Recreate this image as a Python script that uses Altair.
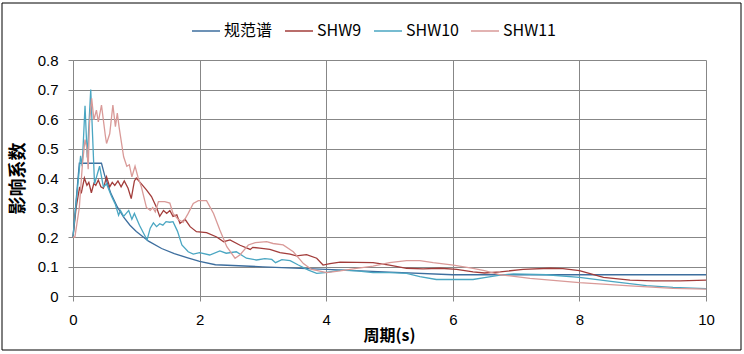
import altair as alt
import pandas as pd

series_names = ["规范谱", "SHW9", "SHW10", "SHW11"]
series_colors = ["#3D6E9E", "#A23C3A", "#4AA6C2", "#D99A98"]

x_ticks = [0, 2, 4, 6, 8, 10]
y_ticks = [0, 0.1, 0.2, 0.3, 0.4, 0.5, 0.6, 0.7, 0.8]

std_t = [0, 0.1, 0.45, 0.5, 0.6, 0.7, 0.8, 0.9, 1.0, 1.2, 1.4, 1.6, 1.8, 2.0, 2.25, 3, 4, 5, 6, 10]
std_v = [0.20, 0.45, 0.45, 0.409, 0.347, 0.302, 0.267, 0.240, 0.219, 0.185, 0.161, 0.144,
         0.130, 0.117, 0.106, 0.099, 0.090, 0.081, 0.072, 0.072]

shw9_t = [0, 0.05, 0.105, 0.13, 0.18, 0.22, 0.25, 0.29, 0.33, 0.36,
          0.4, 0.44, 0.48, 0.53, 0.58, 0.62, 0.66, 0.71, 0.76, 0.81,
          0.87, 0.92, 0.97, 1.0, 1.08, 1.16, 1.24, 1.32, 1.37, 1.43,
          1.48, 1.53, 1.58, 1.64, 1.69, 1.77, 1.85, 1.95, 2.11, 2.27,
          2.38, 2.48, 2.64, 2.8, 2.84, 2.95, 3.11, 3.27, 3.43, 3.53,
          3.69, 3.85, 3.95, 4.06, 4.22, 4.48, 4.74, 5.0, 5.27, 5.53,
          5.8, 6.06, 6.32, 6.5, 6.75, 7.11, 7.54, 7.74, 8.0, 8.38,
          8.8, 9.16, 9.59, 10]
shw9_v = [0.20, 0.30, 0.37, 0.348, 0.40, 0.375, 0.385, 0.35, 0.382, 0.375,
          0.393, 0.37, 0.365, 0.404, 0.37, 0.385, 0.375, 0.39, 0.37, 0.39,
          0.365, 0.33, 0.39, 0.40, 0.38, 0.36, 0.337, 0.30, 0.27, 0.29,
          0.28, 0.29, 0.27, 0.275, 0.246, 0.26, 0.235, 0.218, 0.215, 0.20,
          0.184, 0.19, 0.172, 0.158, 0.165, 0.162, 0.158, 0.147, 0.142, 0.136,
          0.14, 0.128, 0.105, 0.11, 0.115, 0.114, 0.113, 0.105, 0.094, 0.092,
          0.094, 0.09, 0.082, 0.078, 0.082, 0.09, 0.094, 0.093, 0.086, 0.063,
          0.054, 0.051, 0.051, 0.054]

shw10_t = [0, 0.06, 0.12, 0.145, 0.19, 0.225, 0.28, 0.34, 0.42, 0.48,
           0.53, 0.61, 0.67, 0.72, 0.75, 0.8, 0.88, 0.93, 0.97, 1.05,
           1.17, 1.22, 1.27, 1.32, 1.37, 1.42, 1.47, 1.53, 1.58, 1.65,
           1.72, 1.82, 1.9, 2.0, 2.16, 2.32, 2.42, 2.58, 2.74, 2.9,
           3.03, 3.14, 3.2, 3.3, 3.43, 3.56, 3.72, 3.85, 3.98, 4.22,
           4.48, 4.74, 5.0, 5.27, 5.48, 5.74, 6.06, 6.32, 6.5, 6.75,
           6.96, 7.48, 8.0, 8.53, 9.06, 9.48, 10]
shw10_v = [0.20, 0.34, 0.475, 0.44, 0.645, 0.47, 0.70, 0.38, 0.44, 0.37,
           0.38, 0.337, 0.31, 0.274, 0.29, 0.27, 0.29, 0.26, 0.28, 0.24,
           0.19, 0.23, 0.248, 0.235, 0.245, 0.24, 0.252, 0.25, 0.252, 0.22,
           0.173, 0.15, 0.142, 0.147, 0.139, 0.153, 0.145, 0.15, 0.128, 0.122,
           0.127, 0.124, 0.113, 0.123, 0.12, 0.105, 0.088, 0.077, 0.079, 0.088,
           0.085, 0.079, 0.079, 0.077, 0.066, 0.056, 0.056, 0.056, 0.062, 0.071,
           0.075, 0.072, 0.063, 0.049, 0.035, 0.029, 0.025]

shw11_t = [0, 0.03, 0.1, 0.15, 0.19, 0.22, 0.24, 0.26, 0.295, 0.33,
           0.37, 0.40, 0.45, 0.51, 0.53, 0.58, 0.63, 0.67, 0.70, 0.73,
           0.80, 0.85, 0.89, 0.93, 0.98, 1.03, 1.08, 1.16, 1.22, 1.26,
           1.30, 1.35, 1.45, 1.53, 1.58, 1.66, 1.74, 1.82, 1.90, 1.98,
           2.11, 2.22, 2.32, 2.43, 2.56, 2.64, 2.77, 2.88, 3.06, 3.16,
           3.32, 3.48, 3.64, 3.77, 4.01, 4.22, 4.48, 4.74, 5.0, 5.27,
           5.48, 5.69, 6.01, 6.32, 6.5, 6.75, 7.22, 8.0, 8.8, 9.48,
           10]
shw11_v = [0.20, 0.20, 0.30, 0.45, 0.53, 0.50, 0.43, 0.585, 0.67, 0.597,
           0.63, 0.59, 0.647, 0.545, 0.517, 0.55, 0.647, 0.574, 0.62, 0.57,
           0.472, 0.44, 0.445, 0.404, 0.44, 0.40, 0.37, 0.30, 0.29, 0.30,
           0.285, 0.32, 0.32, 0.315, 0.28, 0.26, 0.25, 0.28, 0.314, 0.323,
           0.323, 0.28, 0.224, 0.167, 0.128, 0.14, 0.173, 0.181, 0.184, 0.178,
           0.173, 0.15, 0.11, 0.09, 0.079, 0.085, 0.094, 0.101, 0.113, 0.12,
           0.12, 0.113, 0.105, 0.094, 0.086, 0.072, 0.06, 0.045, 0.034, 0.026,
           0.023]

rows = []
for name, ts, vs in zip(series_names,
                        [std_t, shw9_t, shw10_t, shw11_t],
                        [std_v, shw9_v, shw10_v, shw11_v]):
    for i, (t, v) in enumerate(zip(ts, vs)):
        rows.append({"series": name, "t": t, "v": v, "i": i})
df = pd.DataFrame(rows)

grid_color = "#878787"
num_font = "Liberation Sans"
cjk_font = "Noto Sans CJK SC"

border = alt.Chart(alt.Data(values=[{"k": 1}])).mark_rect(
    filled=False, stroke="#000000", strokeWidth=1
).encode(
    x=alt.value(-71), x2=alt.value(668), y=alt.value(-57), y2=alt.value(290)
)

lines = alt.Chart(df).mark_line(strokeWidth=1.3).encode(
    x=alt.X("t:Q",
            scale=alt.Scale(domain=[0, 10], nice=False, zero=False),
            axis=alt.Axis(values=x_ticks, title="周期(s)", grid=True,
                          gridColor=grid_color, domainColor=grid_color,
                          tickColor=grid_color, tickSize=5, labelFlush=False,
                          labelFont=num_font, labelFontSize=15, labelColor="#000000",
                          labelBaseline="middle", labelPadding=18,
                          titleFont=cjk_font, titleFontSize=16, titleFontWeight="bold",
                          titleColor="#000000", titleX=316, titleY=39,
                          titleBaseline="middle", titleAlign="center")),
    y=alt.Y("v:Q",
            scale=alt.Scale(domain=[0, 0.8], nice=False),
            axis=alt.Axis(values=y_ticks, title="影响系数", grid=True,
                          gridColor=grid_color, domainColor=grid_color,
                          tickColor=grid_color, tickSize=5, labelFlush=False,
                          labelFont=num_font, labelFontSize=15, labelColor="#000000",
                          labelPadding=10,
                          labelExpr="datum.value == 0 ? '0' : format(datum.value, '.1f')",
                          titleFont=cjk_font, titleFontSize=18, titleFontWeight="bold",
                          titleColor="#000000", titleX=-55, titleY=118,
                          titleBaseline="middle", titleAlign="center", titleAngle=-90)),
    color=alt.Color("series:N",
                    scale=alt.Scale(domain=series_names, range=series_colors),
                    sort=series_names,
                    legend=alt.Legend(title=None, orient="none", legendX=118, legendY=-44,
                                      direction="horizontal", symbolType="stroke",
                                      symbolSize=784, symbolStrokeWidth=1.5,
                                      labelFont=cjk_font, labelFontSize=16,
                                      labelColor="#000000", labelOffset=3,
                                      columnPadding=9, padding=0)),
    order="i:Q",
)

chart = alt.layer(border, lines).properties(
    width=633, height=236,
    autosize=alt.AutoSizeParams(type="none"),
    padding={"left": 73, "top": 60, "right": 38, "bottom": 58},
    background="#FFFFFF",
).configure_view(stroke=None)

chart.save("out.html", embed_options={"renderer": "svg", "actions": False})
